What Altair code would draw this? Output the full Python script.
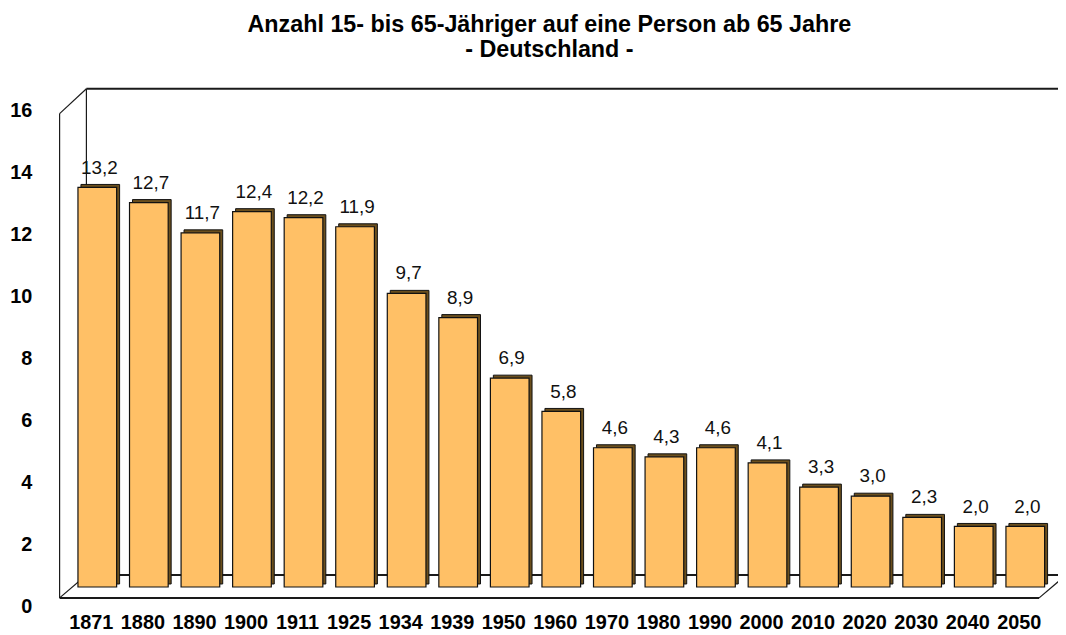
import altair as alt
import pandas as pd

years = ["1871", "1880", "1890", "1900", "1911", "1925", "1934", "1939", "1950", "1960",
         "1970", "1980", "1990", "2000", "2010", "2020", "2030", "2040", "2050"]
values = [13.2, 12.7, 11.7, 12.4, 12.2, 11.9, 9.7, 8.9, 6.9, 5.8,
          4.6, 4.3, 4.6, 4.1, 3.3, 3.0, 2.3, 2.0, 2.0]
y_ticks = [0, 2, 4, 6, 8, 10, 12, 14, 16]
title_lines = ["Anzahl 15- bis 65-Jähriger auf eine Person ab 65 Jahre", "- Deutschland -"]

df = pd.DataFrame({
    "year": years,
    "value": values,
    "label": [f"{v:.1f}".replace(".", ",") for v in values],
})
one = pd.DataFrame({"k": [0]})
ticks_df = pd.DataFrame({"t": y_ticks})

W, H = 987, 488
FONT = "Liberation Sans"
DX, DY_TOP, DY_BOT = 27, -25, -23      # depth of the 3D back wall
MX, MY = 12, -11                       # bars sit at mid-depth
yscale = alt.Scale(domain=[0, 16], nice=False, zero=True)
line_col = "#1a1a1a"


def rule(x, x2, y, y2, yo, y2o, sw=1.2):
    return alt.Chart(one).mark_rule(color=line_col, strokeWidth=sw, yOffset=yo, y2Offset=y2o).encode(
        x=alt.value(x), x2=alt.value(x2),
        y=alt.Y(datum=y, scale=yscale, axis=None),
        y2=alt.Y2(datum=y2),
    )


frame = [
    rule(0, 0, 16, 0, 0, 0),                       # front left edge
    rule(DX, DX, 16, 0, DY_TOP, DY_BOT),           # back left edge
    rule(DX, W + 40, 16, 16, DY_TOP, DY_TOP, 2),   # back top edge
    rule(DX, W + 40, 0, 0, DY_BOT, DY_BOT, 2),     # back floor edge
    rule(0, DX, 16, 16, 0, DY_TOP),                # top-left diagonal
    rule(0, DX, 0, 0, 0, DY_BOT),                  # bottom-left diagonal
    rule(W, W + 20, 0, 0, 0, -17),                 # bottom-right diagonal
    rule(0, W, 0, 0, 0, 0, 2),                     # front floor edge
]

xenc = alt.X("year:N", sort=years,
             scale=alt.Scale(paddingInner=0.25, paddingOuter=0.125),
             axis=alt.Axis(title=None, labelAngle=0, ticks=False, domain=False,
                           labelFont=FONT, labelFontSize=20,
                           labelFontWeight="bold", labelColor="black",
                           labelPadding=15, labelOffset=6))

base = alt.Chart(df)
bar_side = base.mark_bar(color="#6b4f1d", stroke="#111", strokeWidth=1,
                         xOffset=MX + 3, x2Offset=MX + 3, yOffset=MY - 3, y2Offset=MY - 3).encode(
    x=xenc, y=alt.Y("value:Q", scale=yscale, axis=None))
bar_front = base.mark_bar(color="#FFC066", stroke="#111", strokeWidth=1.2,
                          xOffset=MX, x2Offset=MX, yOffset=MY, y2Offset=MY).encode(
    x=xenc, y=alt.Y("value:Q", scale=yscale, axis=None))
labels = base.mark_text(font=FONT, fontSize=19, color="#111", baseline="alphabetic",
                        dx=MX + 2, dy=MY - 14).encode(
    x=xenc, y=alt.Y("value:Q", scale=yscale, axis=None), text="label:N")

main = alt.layer(*frame, bar_side, bar_front, labels)

yaxis_layer = alt.Chart(ticks_df).mark_point(opacity=0).encode(
    y=alt.Y("t:Q", scale=alt.Scale(domain=[0, 16], range=[497, -3], nice=False),
            axis=alt.Axis(orient="left", values=y_ticks, title=None, ticks=False, domain=False,
                          grid=False, labelFont=FONT, labelFontSize=20, labelFontWeight="bold",
                          labelColor="black", labelPadding=28)))

chart = alt.layer(main, yaxis_layer).resolve_scale(y="independent").properties(
    width=W, height=H,
    autosize=alt.AutoSizeParams(type="none"),
    padding={"left": 52, "top": 104, "right": 19, "bottom": 35},
    background="white",
    title=alt.TitleParams(title_lines, font=FONT, fontSize=23.5, fontWeight="bold",
                          color="black", anchor="middle", offset=27, lineHeight=25),
).configure_view(stroke=None)

chart.save("out.html", embed_options={"renderer": "svg", "actions": False})
